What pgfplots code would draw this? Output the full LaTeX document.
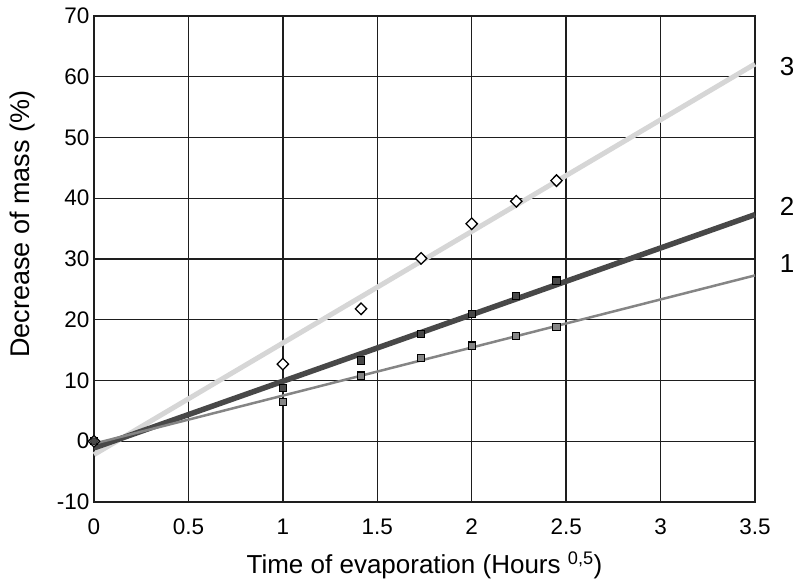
\documentclass[border=0pt]{standalone}
\usepackage{fontspec}
\setmainfont{Liberation Sans}
\usepackage{pgfplots}
\pgfplotsset{compat=1.18}
\definecolor{lthree}{HTML}{D6D6D6}
\definecolor{ltwo}{HTML}{484848}
\definecolor{lone}{HTML}{858585}
\definecolor{gridc}{HTML}{1E1E1E}
\begin{document}
\begin{tikzpicture}
\path[use as bounding box] (-94pt,-77pt) rectangle (704pt,502pt);
\begin{axis}[
  at={(0pt,0pt)}, anchor=south west,
  scale only axis, width=661pt, height=486pt,
  xmin=0, xmax=3.5, ymin=-10, ymax=70,
  xtick={0,0.5,1,1.5,2,2.5,3,3.5},
  ytick={-10,0,10,20,30,40,50,60,70},
  major tick length=0pt,
  grid=major,
  major grid style={draw=gridc, line width=1.4pt},
  axis line style={draw=gridc, line width=1.4pt},
  /pgf/number format/assume math mode=true,
  tick label style={font=\fontsize{22.5}{26}\selectfont},
  xticklabel style={yshift=-13pt},
  yticklabel style={xshift=-1pt},
  xlabel={Time of evaporation (Hours \textsuperscript{0,5})},
  ylabel={Decrease of mass (\%)},
  xlabel style={font=\fontsize{26}{30}\selectfont, at={(axis description cs:0.5,-0.1296)}, anchor=center},
  ylabel style={font=\fontsize{27}{31}\selectfont, at={(axis description cs:-0.1074,0.572)}, anchor=center},
  clip=false,
]
% trend lines
\addplot[draw=lthree, line width=5pt, no marks] coordinates {(0,-2.2) (3.5,62.1)};
\addplot[draw=ltwo, line width=5.5pt, no marks] coordinates {(0,-1.1) (3.5,37.3)};
\addplot[draw=lone, line width=2.5pt, no marks] coordinates {(0,-0.4) (3.5,27.3)};
% data points
\addplot[only marks, mark=square*, mark size=3.6pt, mark options={fill=lone, draw=black, line width=1.1pt}]
  coordinates {(0,0) (1,6.5) (1.414,10.8) (1.732,13.7) (2,15.75) (2.236,17.3) (2.449,18.8)};
\addplot[only marks, mark=square*, mark size=3.6pt, mark options={fill=ltwo, draw=black, line width=1.1pt}]
  coordinates {(0,0) (1,8.8) (1.414,13.3) (1.732,17.6) (2,20.96) (2.236,23.9) (2.449,26.45)};
\addplot[only marks, mark=diamond*, mark size=5.8pt, mark options={fill=white, draw=black, line width=1.3pt, xscale=1.3}]
  coordinates {(0,0) (1,12.7) (1.414,21.8) (1.732,30.1) (2,35.8) (2.236,39.5) (2.449,42.9)};
\addplot[only marks, mark=*, mark size=3.6pt, mark options={fill=ltwo, draw=black}]
  coordinates {(0,0)};
\node[font=\fontsize{26}{30}\selectfont] at (axis cs:3.5,61.7) [xshift=32pt] {3};
\node[font=\fontsize{26}{30}\selectfont] at (axis cs:3.5,38.6) [xshift=32pt] {2};
\node[font=\fontsize{26}{30}\selectfont] at (axis cs:3.5,29.3) [xshift=32pt] {1};
\end{axis}
\end{tikzpicture}
\end{document}
